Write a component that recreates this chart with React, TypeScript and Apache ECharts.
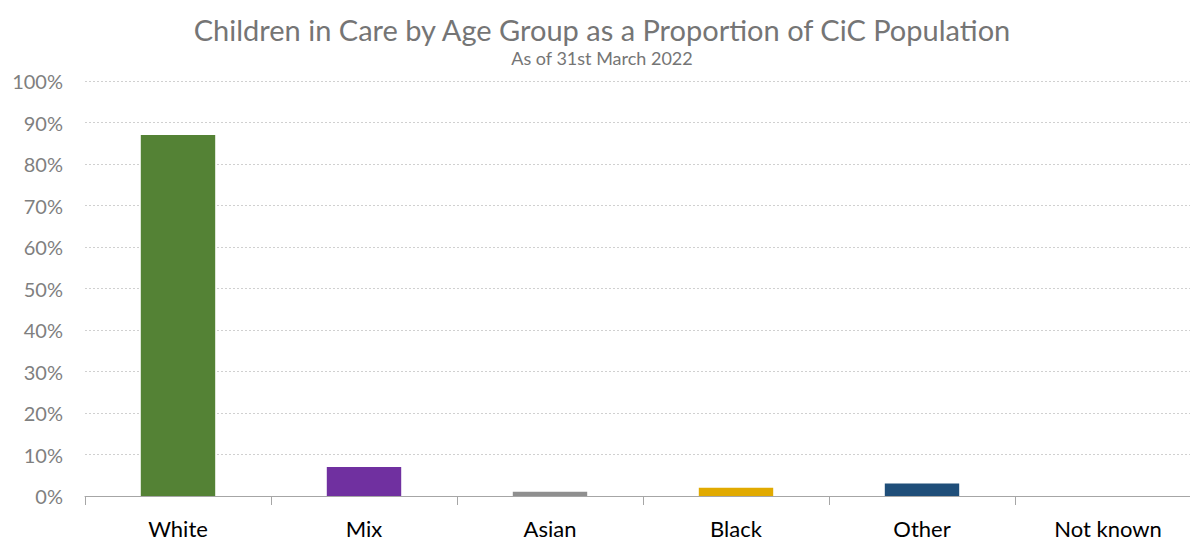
import React, { useEffect, useRef } from "react";
import * as echarts from "echarts";

const categories = ["White", "Mix", "Asian", "Black", "Other", "Not known"];
const values = [87.0, 7.0, 1.0, 2.0, 3.0, 0];
const barColors = ["#548235", "#7030A0", "#8F8F8F", "#E1AA00", "#1F4E79", "#7F7F7F"];
const yTicks = [0, 10, 20, 30, 40, 50, 60, 70, 80, 90, 100];

export default function App() {
  const ref = useRef<HTMLDivElement>(null);
  useEffect(() => {
    if (!ref.current) return;
    const chart = echarts.init(ref.current, undefined, { renderer: "svg" });
    chart.setOption({
      animation: false,
      backgroundColor: "#ffffff",
      textStyle: { fontFamily: "Lato" },
      title: {
        text: "Children in Care by Age Group as a Proportion of CiC Population",
        subtext: "As of 31st March 2022",
        left: 597,
        textAlign: "center",
        top: 10,
        itemGap: 5,
        textStyle: { fontFamily: "Lato", fontSize: 29, fontWeight: "normal", color: "#757575" },
        subtextStyle: { fontFamily: "Lato", fontSize: 18, color: "#757575" },
      },
      grid: { left: 85, top: 81, width: 1116, height: 415 },
      xAxis: {
        type: "category",
        data: categories,
        axisLine: { lineStyle: { color: "#A6A6A6", width: 1 } },
        axisTick: { show: true, length: 9, lineStyle: { color: "#A6A6A6" } },
        axisLabel: { fontFamily: "Lato", fontSize: 22, color: "#000000", margin: 21 },
      },
      yAxis: {
        type: "value",
        min: 0,
        max: 100,
        interval: 10,
        axisLine: { show: false },
        axisTick: { show: false },
        axisLabel: {
          fontFamily: "Lato",
          fontSize: 20,
          color: "#7F7F7F",
          margin: 22,
          formatter: (v: number) => (yTicks.includes(v) ? v + "%" : ""),
        },
        splitLine: { lineStyle: { color: "#D0D0D0", type: [2, 2], width: 1 } },
      },
      series: [
        {
          type: "bar",
          barCategoryGap: "60%",
          data: values.map((v, i) => ({ value: v, itemStyle: { color: barColors[i] } })),
        },
      ],
    });
    return () => chart.dispose();
  }, []);
  return (
    <div
      ref={ref}
      style={{ position: "fixed", left: 0, top: 0, width: 1202, height: 541, background: "#fff" }}
    />
  );
}
